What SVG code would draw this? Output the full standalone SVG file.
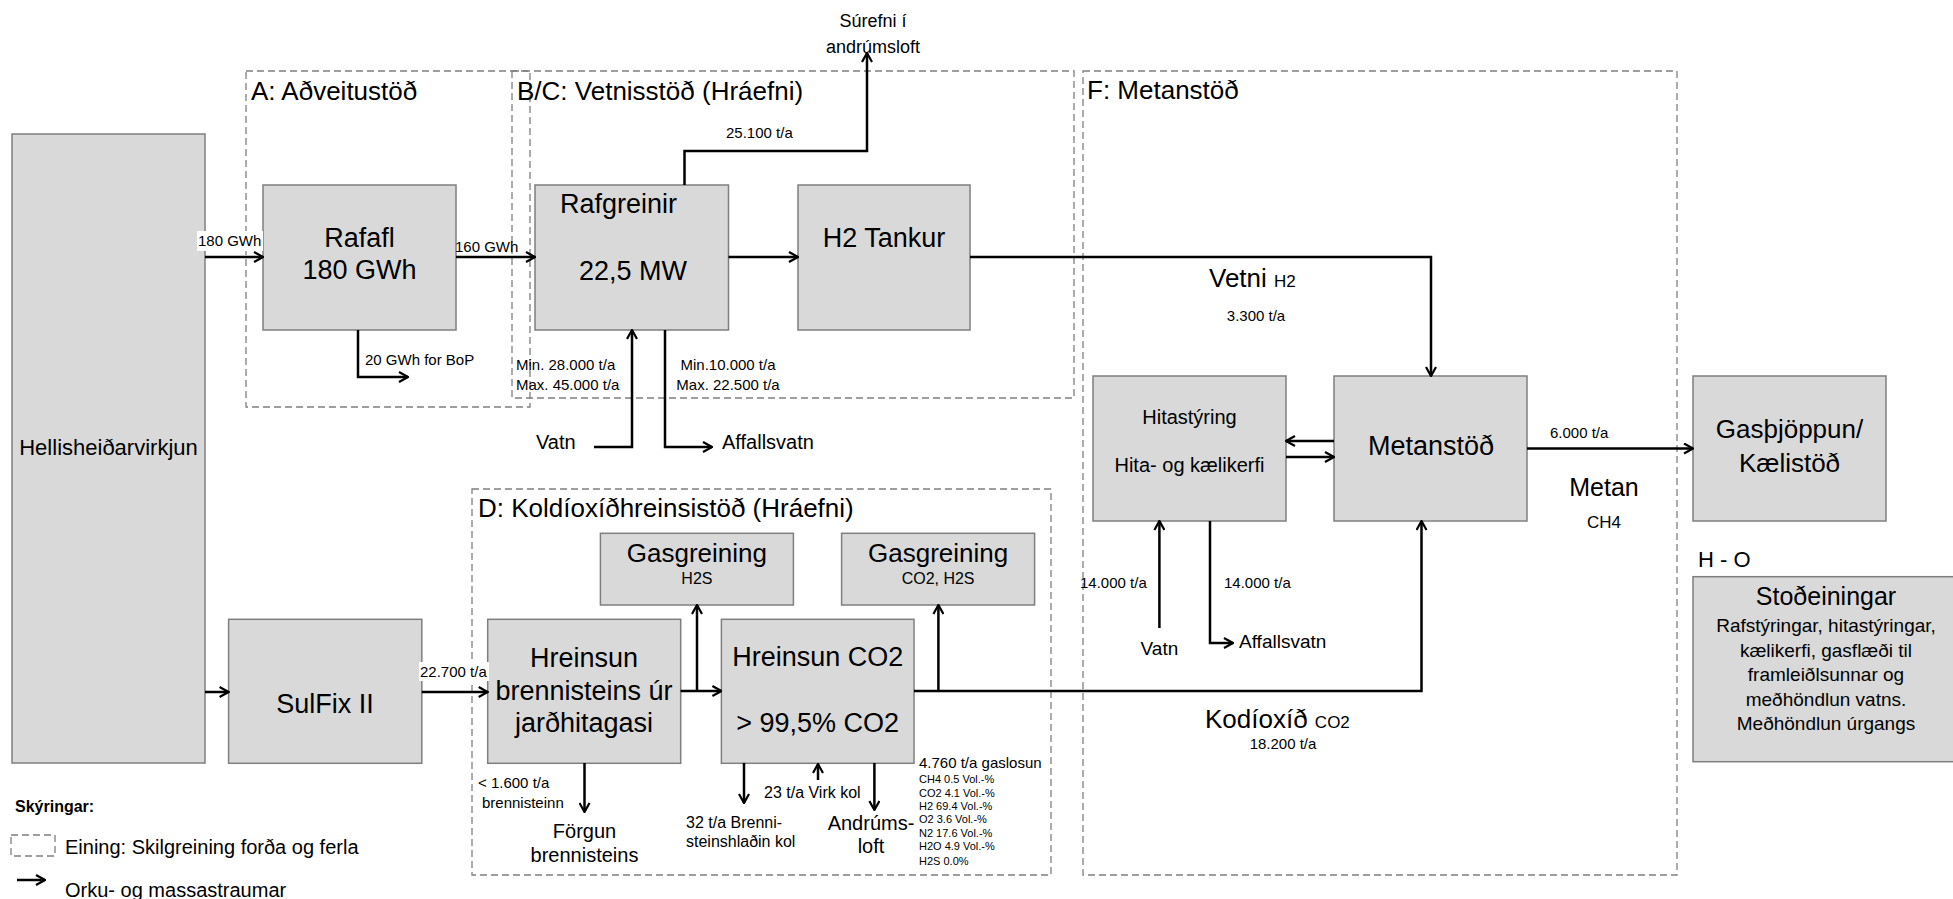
<svg xmlns="http://www.w3.org/2000/svg" width="1953" height="899" viewBox="0 0 1953 899">
<style>
text{font-family:"Liberation Sans",Arial,sans-serif;fill:#000}
.box{fill:#d9d9d9;stroke:#7f7f7f;stroke-width:1.5}
.unit{fill:none;stroke:#7f7f7f;stroke-width:1.3;stroke-dasharray:7,4}
.c{fill:none;stroke:#000;stroke-width:2.5;marker-end:url(#a)}
.big{font-size:27px}
.ttl{font-size:26px}
.med{font-size:20px}
.sm{font-size:15px}
.xs{font-size:15px}
.m{text-anchor:middle}
</style>
<defs>
<marker id="a" viewBox="0 0 12 12" refX="11" refY="6" markerWidth="12" markerHeight="12" markerUnits="userSpaceOnUse" orient="auto">
<path d="M2,1 L11,6 L2,11" fill="none" stroke="#000" stroke-width="2.2"/>
</marker>
</defs>
<rect width="1953" height="899" fill="#fff"/>

<g id="units">
<rect class="unit" x="246" y="71" width="284" height="336"/>
<rect class="unit" x="512" y="71" width="562" height="327"/>
<rect class="unit" x="1083" y="71" width="594" height="804"/>
<rect class="unit" x="472" y="489" width="579" height="386"/>
<text class="ttl" x="251" y="100">A: Aðveitustöð</text>
<text class="ttl" x="517" y="100">B/C: Vetnisstöð (Hráefni)</text>
<text class="ttl" x="1087" y="99">F: Metanstöð</text>
<text class="ttl" x="478" y="517">D: Koldíoxíðhreinsistöð (Hráefni)</text>
</g>

<g id="hellisheidarvirkjun">
<rect class="box" x="12" y="134" width="193" height="629"/>
<text class="m" x="108.5" y="455" font-size="22">Hellisheiðarvirkjun</text>
</g>
<g id="rafafl">
<rect class="box" x="263" y="185" width="193" height="145"/>
<text class="big m" x="359.5" y="247">Rafafl</text>
<text class="big m" x="359.5" y="279">180 GWh</text>
</g>
<g id="rafgreinir">
<rect class="box" x="535" y="185" width="193.5" height="145"/>
<text class="big" x="560" y="213">Rafgreinir</text>
<text class="big m" x="633" y="280">22,5 MW</text>
</g>
<g id="h2tankur">
<rect class="box" x="798" y="185" width="172" height="145"/>
<text class="big m" x="884" y="247">H2 Tankur</text>
</g>
<g id="hitastyring">
<rect class="box" x="1093" y="376" width="193" height="145"/>
<text class="m" x="1189.5" y="424" font-size="20">Hitastýring</text>
<text class="m" x="1189.5" y="472" font-size="20">Hita- og kælikerfi</text>
</g>
<g id="metanstod">
<rect class="box" x="1334" y="376" width="193" height="145"/>
<text class="big m" x="1431" y="455">Metanstöð</text>
</g>
<g id="gasthjoppun">
<rect class="box" x="1693" y="376" width="193" height="145"/>
<text class="ttl m" x="1789.5" y="438">Gasþjöppun/</text>
<text class="ttl m" x="1789.5" y="472">Kælistöð</text>
</g>
<g id="sulfix">
<rect class="box" x="228.6" y="619.3" width="193.2" height="144"/>
<text class="big m" x="325" y="713">SulFix II</text>
</g>
<g id="hreinsun-brennisteins">
<rect class="box" x="487.7" y="619.3" width="193" height="144"/>
<text class="big m" x="584" y="667">Hreinsun</text>
<text class="big m" x="584" y="700">brennisteins úr</text>
<text class="big m" x="584" y="732">jarðhitagasi</text>
</g>
<g id="hreinsun-co2">
<rect class="box" x="721.4" y="619.3" width="192.6" height="144"/>
<text class="big m" x="817.7" y="666">Hreinsun CO2</text>
<text class="big m" x="817.7" y="732">&gt; 99,5% CO2</text>
</g>
<g id="gasgreining-h2s">
<rect class="box" x="600.4" y="533.3" width="193" height="71.7"/>
<text class="ttl m" x="696.9" y="562">Gasgreining</text>
<text class="m" x="696.9" y="584" font-size="16">H2S</text>
</g>
<g id="gasgreining-co2">
<rect class="box" x="841.6" y="533.3" width="193" height="71.7"/>
<text class="ttl m" x="938.1" y="562">Gasgreining</text>
<text class="m" x="938.1" y="584" font-size="16">CO2, H2S</text>
</g>
<g id="stodeiningar">
<text x="1698" y="567" font-size="22">H - O</text>
<rect class="box" x="1693" y="576.7" width="262" height="185"/>
<text class="m" x="1826" y="605" font-size="25">Stoðeiningar</text>
<text class="m" x="1826" y="632" font-size="19">Rafstýringar, hitastýringar,</text>
<text class="m" x="1826" y="657" font-size="19">kælikerfi, gasflæði til</text>
<text class="m" x="1826" y="681" font-size="19">framleiðlsunnar og</text>
<text class="m" x="1826" y="706" font-size="19">meðhöndlun vatns.</text>
<text class="m" x="1826" y="730" font-size="19">Meðhöndlun úrgangs</text>
</g>

<g id="connectors">
<path class="c" d="M205,257 H263"/>
<path class="c" d="M456,257 H535"/>
<path class="c" d="M358,330 V377 H408"/>
<path class="c" d="M728.5,257 H798"/>
<path class="c" d="M684.5,185 V151 H867 V53"/>
<path class="c" d="M594,447 H632 V330"/>
<path class="c" d="M665,330 V447 H712"/>
<path class="c" d="M970,257 H1431 V376"/>
<path class="c" d="M1334,441 H1286"/>
<path class="c" d="M1286,457 H1334"/>
<path class="c" d="M1527,448.5 H1693"/>
<path class="c" d="M1159.4,628 V521"/>
<path class="c" d="M1210,521 V643 H1233"/>
<path class="c" d="M205,692 H228.6"/>
<path class="c" d="M421.8,692 H487.7"/>
<path class="c" d="M680.6,691 H721.4"/>
<path class="c" d="M697,691 V605"/>
<path class="c" d="M914,691 H1421.5 V521"/>
<path class="c" d="M938.4,691 V605"/>
<path class="c" d="M584.5,763 V812"/>
<path class="c" d="M744,763 V803"/>
<path class="c" d="M818,780 V764"/>
<path class="c" d="M874.4,763 V810"/>
</g>

<g id="labels">
<rect x="197" y="231" width="66" height="20" fill="#fff"/>
<text class="sm" x="198" y="246">180 GWh</text>
<text class="sm" x="455" y="252">160 GWh</text>
<text class="sm" x="365" y="365">20 GWh for BoP</text>
<text class="sm" x="726" y="138">25.100 t/a</text>
<text class="m" x="873" y="27" font-size="18">Súrefni í</text>
<text class="m" x="873" y="53" font-size="18">andrúmsloft</text>
<text class="sm" x="516" y="370">Min. 28.000 t/a</text>
<text class="sm" x="516" y="390">Max. 45.000 t/a</text>
<text class="sm m" x="728" y="370">Min.10.000 t/a</text>
<text class="sm m" x="728" y="390">Max. 22.500 t/a</text>
<text x="536" y="449" font-size="20">Vatn</text>
<text x="722" y="449" font-size="20">Affallsvatn</text>
<text x="1209" y="287" font-size="26">Vetni <tspan font-size="17">H2</tspan></text>
<text class="xs m" x="1256" y="321">3.300 t/a</text>
<text class="xs" x="1550" y="438">6.000 t/a</text>
<text class="m" x="1604" y="496" font-size="25">Metan</text>
<text class="m" x="1604" y="528" font-size="17">CH4</text>
<text class="xs" x="1080" y="588">14.000 t/a</text>
<text class="xs" x="1224" y="588">14.000 t/a</text>
<text class="m" x="1159.4" y="655" font-size="19">Vatn</text>
<text x="1239" y="648" font-size="19">Affallsvatn</text>
<text x="1205" y="728" font-size="26">Kodíoxíð <tspan font-size="17">CO2</tspan></text>
<text class="xs m" x="1283" y="749">18.200 t/a</text>
<rect x="419" y="662" width="70" height="19" fill="#fff"/>
<text class="sm" x="420" y="677">22.700 t/a</text>
<text class="sm" x="478" y="788">&lt; 1.600 t/a</text>
<text class="sm" x="482" y="808">brennisteinn</text>
<text class="med m" x="584.5" y="838">Förgun</text>
<text class="med m" x="584.5" y="862">brennisteins</text>
<text x="686" y="828" font-size="16">32 t/a Brenni-</text>
<text x="686" y="847" font-size="16">steinshlaðin kol</text>
<text x="764" y="798" font-size="16">23 t/a Virk kol</text>
<text class="med m" x="871" y="830">Andrúms-</text>
<text class="med m" x="871" y="853">loft</text>
<text x="919" y="768" font-size="15">4.760 t/a gaslosun</text>
<text x="919" y="783" font-size="11">CH4 0.5 Vol.-%</text>
<text x="919" y="797" font-size="11">CO2 4.1 Vol.-%</text>
<text x="919" y="810" font-size="11">H2 69.4 Vol.-%</text>
<text x="919" y="823" font-size="11">O2 3.6 Vol.-%</text>
<text x="919" y="837" font-size="11">N2 17.6 Vol.-%</text>
<text x="919" y="850" font-size="11">H2O 4.9 Vol.-%</text>
<text x="919" y="865" font-size="11">H2S 0.0%</text>
</g>

<g id="legend">
<text x="15" y="812" font-size="16" font-weight="bold">Skýringar:</text>
<rect class="unit" x="11" y="835" width="44" height="21"/>
<text x="65" y="854" font-size="20">Eining: Skilgreining forða og ferla</text>
<path class="c" d="M17,880 H45"/>
<text x="65" y="897" font-size="20">Orku- og massastraumar</text>
</g>
</svg>
